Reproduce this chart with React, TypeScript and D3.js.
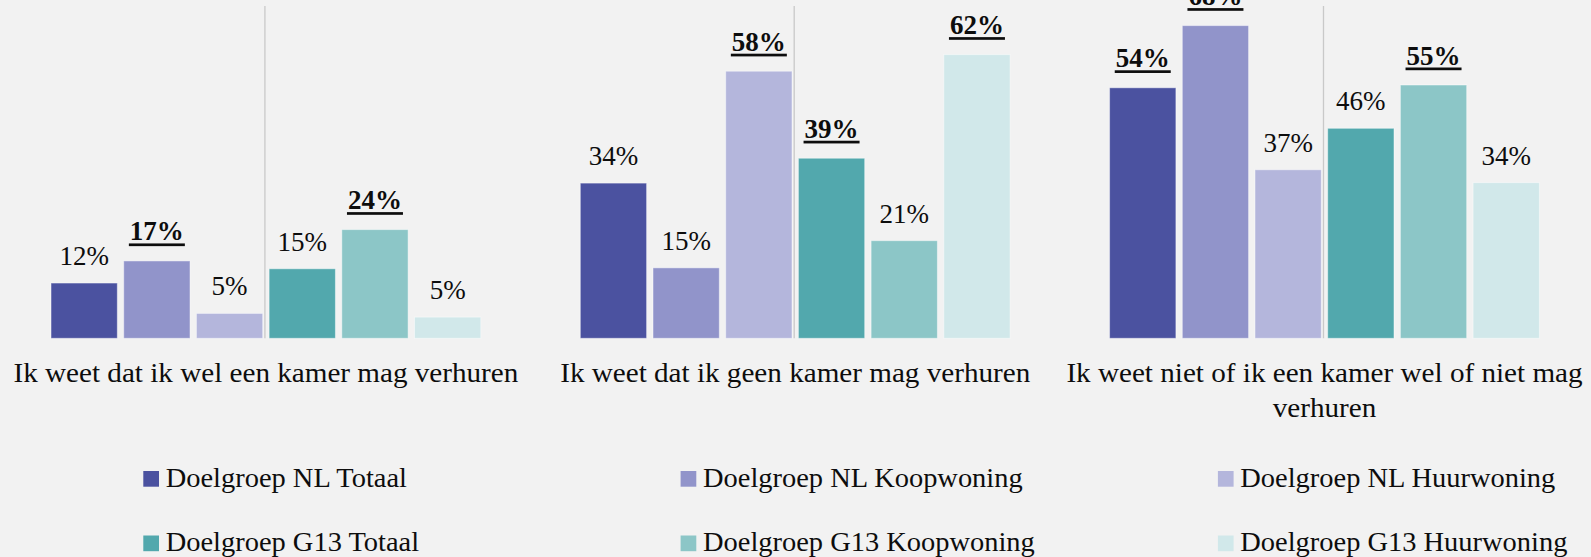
import React from "react";
import * as d3 from "d3";

// ---- data ----
const categories = [
  "Ik weet dat ik wel een kamer mag verhuren",
  "Ik weet dat ik geen kamer mag verhuren",
  "Ik weet niet of ik een kamer wel of niet mag verhuren",
];
const categoryLines: string[][] = [
  ["Ik weet dat ik wel een kamer mag verhuren"],
  ["Ik weet dat ik geen kamer mag verhuren"],
  ["Ik weet niet of ik een kamer wel of niet mag", "verhuren"],
];
const seriesNames = [
  "Doelgroep NL Totaal",
  "Doelgroep NL Koopwoning",
  "Doelgroep NL Huurwoning",
  "Doelgroep G13 Totaal",
  "Doelgroep G13 Koopwoning",
  "Doelgroep G13 Huurwoning",
];
const nlTotaal = [12, 33.7, 54.4];
const nlKoop = [16.8, 15.3, 67.9];
const nlHuur = [5.4, 58, 36.6];
const g13Totaal = [15.1, 39.1, 45.6];
const g13Koop = [23.6, 21.2, 55];
const g13Huur = [4.6, 61.6, 33.8];
const nlTotaalBold = [false, false, true];
const nlKoopBold = [true, false, true];
const nlHuurBold = [false, true, false];
const g13TotaalBold = [false, true, false];
const g13KoopBold = [true, false, true];
const g13HuurBold = [false, true, false];

const seriesValues = [nlTotaal, nlKoop, nlHuur, g13Totaal, g13Koop, g13Huur];
const seriesBold = [nlTotaalBold, nlKoopBold, nlHuurBold, g13TotaalBold, g13KoopBold, g13HuurBold];
const seriesColors = ["#4b52a0", "#9194ca", "#b4b6dc", "#52a8ad", "#8cc6c7", "#d1e8ea"];

// ---- layout ----
const W = 1591;
const H = 557;
const BASE = 338.3;
const FONT = "'Liberation Serif', 'Times New Roman', serif";
const VAL_SIZE = 27;
const CAT_SIZE = 26.5;
const CAT_STRETCH = 1.1;
const LEG_SIZE = 27.5;
const LEG_STRETCH = 1.035;

let ctx: CanvasRenderingContext2D | null = null;
function measure(text: string, font: string, size: number): number {
  if (!ctx && typeof document !== "undefined") {
    ctx = document.createElement("canvas").getContext("2d");
  }
  if (ctx) {
    ctx.font = font;
    return ctx.measureText(text).width;
  }
  return text.length * size * 0.6;
}

export default function App() {
  const x0 = d3
    .scaleBand<string>()
    .domain(categories)
    .range([1.4, 1589])
    .paddingInner(0.1759)
    .paddingOuter(0.0877);
  const x1 = d3
    .scaleBand<string>()
    .domain(seriesNames)
    .range([0, x0.bandwidth()])
    .paddingInner(0.088)
    .paddingOuter(0.044);
  const y = d3.scaleLinear().domain([0, 73.46]).range([BASE, 0]);

  const legStartX = 143.3;
  const legColStep = 537.3;
  const legRowY = [471, 535.5];
  const sq = 15.7;

  return (
    <svg
      width={W}
      height={H}
      style={{ position: "absolute", left: 0, top: 0, display: "block" }}
      fontFamily={FONT}
    >
      <rect x={0} y={0} width={W} height={H} fill="#f2f2f2" />

      {categories.map((cat, ci) => {
        const gx = x0(cat) as number;
        return (
          <g key={cat}>
            <line
              x1={gx + x0.bandwidth() / 2 - 1}
              x2={gx + x0.bandwidth() / 2 - 1}
              y1={6}
              y2={BASE}
              stroke="#c9c9c9"
              strokeWidth={1.3}
            />
            {seriesNames.map((s, si) => {
              const v = seriesValues[si][ci];
              const bx = gx + (x1(s) as number);
              const by = y(v);
              return (
                <rect
                  key={s}
                  x={bx}
                  y={by}
                  width={x1.bandwidth()}
                  height={BASE - by}
                  fill={seriesColors[si]}
                  stroke="#ffffff"
                  strokeOpacity={0.45}
                  strokeWidth={1}
                />
              );
            })}
            {seriesNames.map((s, si) => {
              const v = seriesValues[si][ci];
              const bold = seriesBold[si][ci];
              const cx = gx + (x1(s) as number) + x1.bandwidth() / 2;
              const label = `${Math.round(v)}%`;
              const baseline = y(v) - (bold ? 20.5 : 18);
              const fontSpec = `${bold ? "bold " : ""}${VAL_SIZE}px 'Liberation Serif'`;
              const tw = measure(label, fontSpec, VAL_SIZE);
              return (
                <g key={s + "-lbl"}>
                  <text
                    x={cx}
                    y={baseline}
                    textAnchor="middle"
                    fontSize={VAL_SIZE}
                    fontWeight={bold ? 700 : 400}
                    fill="#0d0d0d"
                  >
                    {label}
                  </text>
                  {bold && (
                    <rect
                      x={cx - tw / 2 - 1}
                      y={baseline + 3}
                      width={tw + 2}
                      height={2.7}
                      fill="#0d0d0d"
                    />
                  )}
                </g>
              );
            })}
            {categoryLines[ci].map((line, li) => (
              <g
                key={li}
                transform={`translate(${gx + x0.bandwidth() / 2},${382.3 + li * 35}) scale(${CAT_STRETCH},1)`}
              >
                <text x={0} y={0} textAnchor="middle" fontSize={CAT_SIZE} fill="#0d0d0d">
                  {line}
                </text>
              </g>
            ))}
          </g>
        );
      })}

      {seriesNames.map((s, si) => {
        const col = si % 3;
        const row = Math.floor(si / 3);
        const lx = legStartX + col * legColStep;
        const ly = legRowY[row];
        return (
          <g key={s + "-leg"}>
            <rect x={lx} y={ly} width={sq} height={sq} fill={seriesColors[si]} />
            <g transform={`translate(${lx + sq + 6.7},${ly + sq}) scale(${LEG_STRETCH},1)`}>
              <text x={0} y={0} fontSize={LEG_SIZE} fill="#0d0d0d">
                {s}
              </text>
            </g>
          </g>
        );
      })}
    </svg>
  );
}
